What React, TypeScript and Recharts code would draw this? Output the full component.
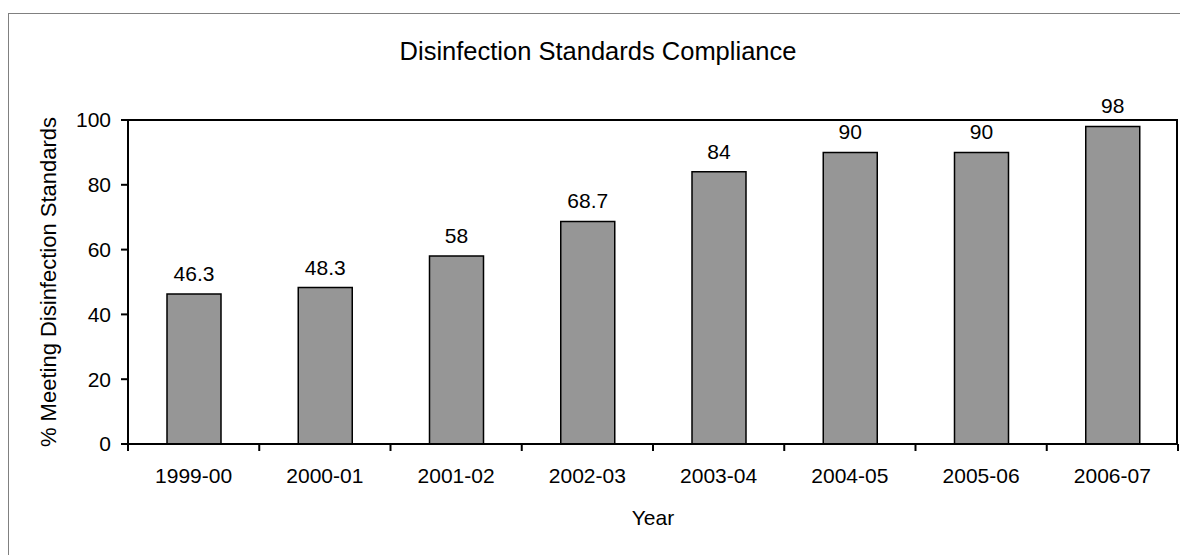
import { BarChart, Bar, XAxis, YAxis, LabelList, CartesianGrid } from 'recharts'

const years = ['1999-00', '2000-01', '2001-02', '2002-03', '2003-04', '2004-05', '2005-06', '2006-07']
const compliance = [46.3, 48.3, 58, 68.7, 84, 90, 90, 98]
const yTicks = [0, 20, 40, 60, 80, 100]

const W = 1180
const H = 555
const PLOT_LEFT = 128
const PLOT_RIGHT = 1178
const PLOT_TOP = 120
const PLOT_BOTTOM = 444
const Y_AXIS_W = 60
const X_AXIS_H = 40
const FONT = '"Liberation Sans", Arial, sans-serif'

const data = years.map((year, i) => ({ year, value: compliance[i] }))

// Excel-style category ticks: marks sit on the band boundaries, labels in the middle
function YearTick(props: any) {
  const { x, payload, index } = props
  const half = payload?.offset ?? (PLOT_RIGHT - PLOT_LEFT) / years.length / 2
  const isLast = index === years.length - 1
  return (
    <g>
      <line x1={x - half} x2={x - half} y1={PLOT_BOTTOM} y2={PLOT_BOTTOM + 7} stroke="#000" strokeWidth={2} />
      {isLast && (
        <line x1={x + half} x2={x + half} y1={PLOT_BOTTOM} y2={PLOT_BOTTOM + 7} stroke="#000" strokeWidth={2} />
      )}
      <text x={x} y={PLOT_BOTTOM + 39} textAnchor="middle" fontSize={21} fontFamily={FONT} fill="#000">
        {payload.value}
      </text>
    </g>
  )
}

export default function App() {
  return (
    <div style={{ position: 'fixed', left: 0, top: 0, width: W, height: H, overflow: 'hidden', background: '#fff' }}>
      <div
        style={{
          position: 'absolute',
          left: 8,
          top: 13,
          width: 1200,
          height: 600,
          border: '1px solid #808080',
        }}
      />
      <div
        style={{
          position: 'absolute',
          left: 0,
          top: 36,
          width: 1196,
          textAlign: 'center',
          fontFamily: FONT,
          fontSize: 25.5,
          color: '#000',
          lineHeight: '30px',
        }}
      >
        Disinfection Standards Compliance
      </div>
      <div style={{ position: 'absolute', left: 0, top: 0, width: W, height: H }}>
        <BarChart
          width={W}
          height={H}
          data={data}
          barSize={54}
          margin={{
            top: PLOT_TOP,
            right: W - PLOT_RIGHT,
            bottom: H - PLOT_BOTTOM - X_AXIS_H,
            left: PLOT_LEFT - Y_AXIS_W,
          }}
        >
          {/* plot-area frame: top and right edges */}
          <CartesianGrid
            stroke="#000"
            strokeWidth={2}
            horizontalPoints={[PLOT_TOP]}
            verticalPoints={[PLOT_RIGHT - 1]}
          />
          <XAxis
            dataKey="year"
            height={X_AXIS_H}
            interval={0}
            tickLine={false}
            tick={<YearTick />}
            axisLine={{ stroke: '#000', strokeWidth: 2 }}
            label={{
              content: () => (
                <text x={(PLOT_LEFT + PLOT_RIGHT) / 2} y={525} textAnchor="middle" fontSize={21} fontFamily={FONT} fill="#000">
                  Year
                </text>
              ),
            }}
          />
          <YAxis
            width={Y_AXIS_W}
            domain={[0, 100]}
            ticks={yTicks}
            tickSize={7}
            tickMargin={10}
            tickLine={{ stroke: '#000', strokeWidth: 2 }}
            axisLine={{ stroke: '#000', strokeWidth: 2 }}
            tick={{ fill: '#000', fontSize: 21, fontFamily: FONT }}
            label={{
              content: () => (
                <text
                  transform={`translate(56, ${(PLOT_TOP + PLOT_BOTTOM) / 2}) rotate(-90)`}
                  textAnchor="middle"
                  fontSize={22}
                  fontFamily={FONT}
                  fill="#000"
                >
                  % Meeting Disinfection Standards
                </text>
              ),
            }}
          />
          <Bar dataKey="value" fill="#969696" stroke="#000" strokeWidth={1.5} isAnimationActive={false}>
            <LabelList dataKey="value" position="top" offset={13} fill="#000" fontSize={21} fontFamily={FONT} />
          </Bar>
        </BarChart>
      </div>
    </div>
  )
}
